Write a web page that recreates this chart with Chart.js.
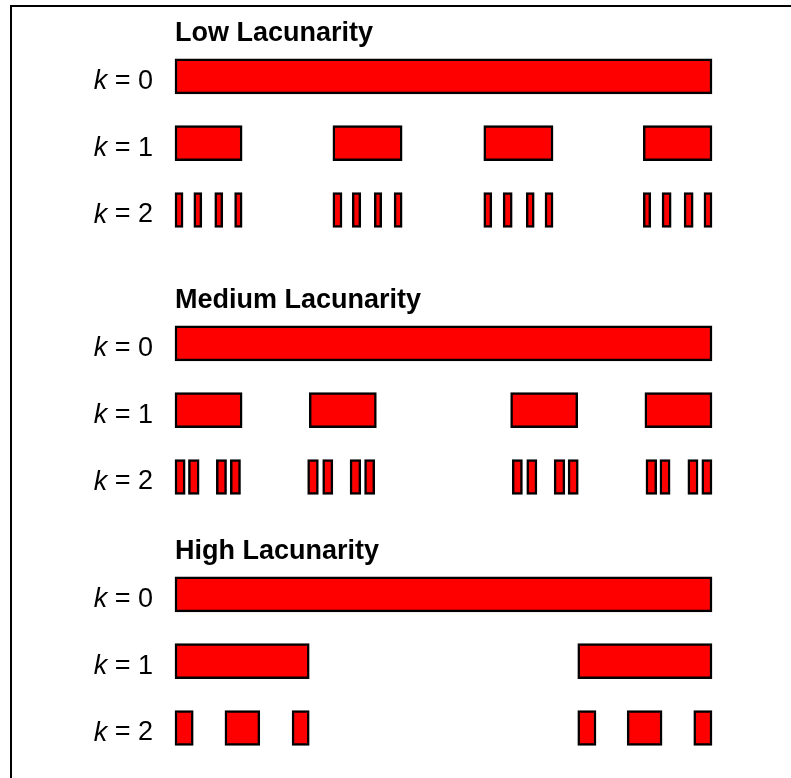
<!DOCTYPE html>
<html>
<head>
<meta charset="utf-8">
<script src="https://cdn.jsdelivr.net/npm/chart.js@4/dist/chart.umd.min.js"></script>
<style>
    html, body { margin: 0; padding: 0; background: #fff; overflow: hidden; }
    body { width: 791px; height: 778px; position: relative; }
    #frame {
        position: absolute; left: 10px; top: 5px;
        width: 820px; height: 820px;
        border: 2px solid #000;
    }
    canvas { position: absolute; left: 0; }
</style>
</head>
<body>
<div id="frame"></div>
<canvas id="lowChart" width="791" height="250" style="top:1px"></canvas>
<canvas id="mediumChart" width="791" height="250" style="top:268px"></canvas>
<canvas id="highChart" width="791" height="250" style="top:519px"></canvas>

<script>
// row labels (first char drawn in italic)
const kLabels = ["k = 0", "k = 1", "k = 2"];
const groupTitles = ["Low Lacunarity", "Medium Lacunarity", "High Lacunarity"];

// segments [start, end] on a 0..1 line
const lowK0 = [[0, 1]];
const lowK1 = [[0, 0.125], [0.294, 0.423], [0.575, 0.704], [0.872, 1]];
const lowK2 = [
    [0, 0.015], [0.035, 0.050], [0.074, 0.089], [0.111, 0.125],
    [0.294, 0.311], [0.330, 0.346], [0.371, 0.385], [0.408, 0.423],
    [0.575, 0.590], [0.611, 0.628], [0.654, 0.669], [0.689, 0.704],
    [0.872, 0.886], [0.907, 0.924], [0.948, 0.965], [0.985, 1]
];

const mediumK0 = [[0, 1]];
const mediumK1 = [[0, 0.125], [0.25, 0.375], [0.625, 0.75], [0.875, 1]];
const mediumK2 = [
    [0, 0.019], [0.025, 0.045], [0.077, 0.096], [0.103, 0.122],
    [0.247, 0.267], [0.275, 0.294], [0.326, 0.346], [0.353, 0.372],
    [0.628, 0.647], [0.655, 0.674], [0.706, 0.726], [0.732, 0.751],
    [0.877, 0.897], [0.903, 0.922], [0.955, 0.974], [0.981, 1]
];

const highK0 = [[0, 1]];
const highK1 = [[0, 0.25], [0.75, 1]];
const highK2 = [
    [0, 0.034], [0.093, 0.158], [0.218, 0.25],
    [0.75, 0.784], [0.842, 0.907], [0.966, 1]
];

const FONT = '"Liberation Sans", Arial, Helvetica, sans-serif';

/* k = n labels, italic k */
const kLabelPlugin = {
    id: "kLabels",
    afterDraw(chart) {
        const { ctx, chartArea } = chart;
        const yScale = chart.scales.y;
        const right = chartArea.left - 22;

        ctx.save();
        ctx.fillStyle = "#000";
        ctx.textBaseline = "middle";
        ctx.textAlign = "right";

        chart.data.labels.forEach((label, i) => {
            const y = yScale.getPixelForValue(i) + 5;
            const rest = label.slice(1);

            ctx.font = "27px " + FONT;
            ctx.fillText(rest, right, y);
            const w = ctx.measureText(rest).width;

            ctx.font = "italic 27px " + FONT;
            ctx.fillText(label[0], right - w, y);
        });

        ctx.restore();
    }
};

/* one dataset per segment slot, all sharing the same row position */
function buildDatasets(rows) {
    const maxSegs = Math.max(...rows.map(r => r.length));
    const sets = [];

    for (let i = 0; i < maxSegs; i++) {
        sets.push({
            data: rows.map(r => r[i] || null),
            backgroundColor: "#ff0000",
            borderColor: "#000",
            borderWidth: 2.5,
            borderSkipped: false,
            barThickness: 35,
            clip: false
        });
    }
    return sets;
}

function createGroupChart(id, title, rows) {
    new Chart(document.getElementById(id), {
        type: "bar",
        data: {
            labels: kLabels,
            datasets: buildDatasets(rows)
        },
        options: {
            responsive: false,
            animation: false,
            indexAxis: "y",
            grouped: false,
            layout: {
                padding: { left: 175, right: 79, top: 0, bottom: 41 }
            },
            plugins: {
                legend: { display: false },
                tooltip: { enabled: false },
                title: {
                    display: true,
                    text: title,
                    align: "start",
                    fullSize: false,
                    color: "#000",
                    font: { family: FONT, size: 27, weight: "bold", lineHeight: 1.2 },
                    padding: { top: 16, bottom: 27 }
                }
            },
            scales: {
                x: { type: "linear", min: 0, max: 1, display: false },
                y: { type: "category", offset: false, display: false }
            }
        },
        plugins: [kLabelPlugin]
    });
}

createGroupChart("lowChart", groupTitles[0], [lowK0, lowK1, lowK2]);
createGroupChart("mediumChart", groupTitles[1], [mediumK0, mediumK1, mediumK2]);
createGroupChart("highChart", groupTitles[2], [highK0, highK1, highK2]);
</script>
</body>
</html>
